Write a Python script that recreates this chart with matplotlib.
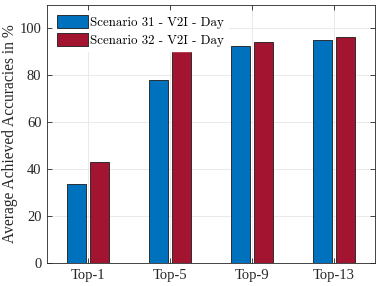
import numpy as np
import matplotlib
matplotlib.use("Agg")
import matplotlib.pyplot as plt

# Data
categories = ["Top-1", "Top-5", "Top-9", "Top-13"]
scenario_31 = [33.6, 78.2, 92.3, 95.0]
scenario_32 = [43.0, 90.9, 94.2, 96.5]
labels = ["Scenario 31 - V2I - Day", "Scenario 32 - V2I - Day"]

plt.rcParams['font.family'] = ['Liberation Serif', 'DejaVu Serif']

fig = plt.figure(figsize=(3.79, 2.86), dpi=100)
ax = fig.add_axes([0.124, 0.080, 0.865, 0.903])

x = np.arange(1, len(categories) + 1)
w = 0.235
off = 0.14
ax.bar(x - off, scenario_31, w, color='#0072BD', edgecolor='#1a1a1a', linewidth=0.6,
       label=labels[0], zorder=3)
ax.bar(x + off, scenario_32, w, color='#A2142F', edgecolor='#1a1a1a', linewidth=0.6,
       label=labels[1], zorder=3)

ax.set_xlim(0.5, 4.5)
ax.set_ylim(0, 110)
ax.set_xticks(x)
ax.set_xticklabels(categories, fontsize=10.5)
ax.set_yticks([0, 20, 40, 60, 80, 100])
ax.tick_params(axis='y', labelsize=10.5)
ax.tick_params(direction='in', top=True, right=True, length=3.5, width=0.6,
               colors='#262626', labelcolor='#262626', pad=4)
ax.set_ylabel('Average Achieved Accuracies in %', fontsize=11.2, color='#262626', labelpad=1)

ax.grid(True, color='#e6e6e6', linewidth=0.6, zorder=0)
ax.set_axisbelow(True)
for s in ax.spines.values():
    s.set_color('#262626')
    s.set_linewidth(0.6)

leg = ax.legend(loc='upper left', frameon=True, prop={'family': 'cmr10', 'size': 9.3},
                handlelength=2.4, handleheight=1.15, handletextpad=0.15, labelspacing=0.3,
                borderaxespad=0.5, borderpad=0.3)
leg.get_frame().set_edgecolor('white')
leg.get_frame().set_alpha(1.0)
leg.get_frame().set_boxstyle('square', pad=0.0)
for p in leg.get_patches():
    p.set_linewidth(0.6)

fig.savefig('out.png', dpi=100)
